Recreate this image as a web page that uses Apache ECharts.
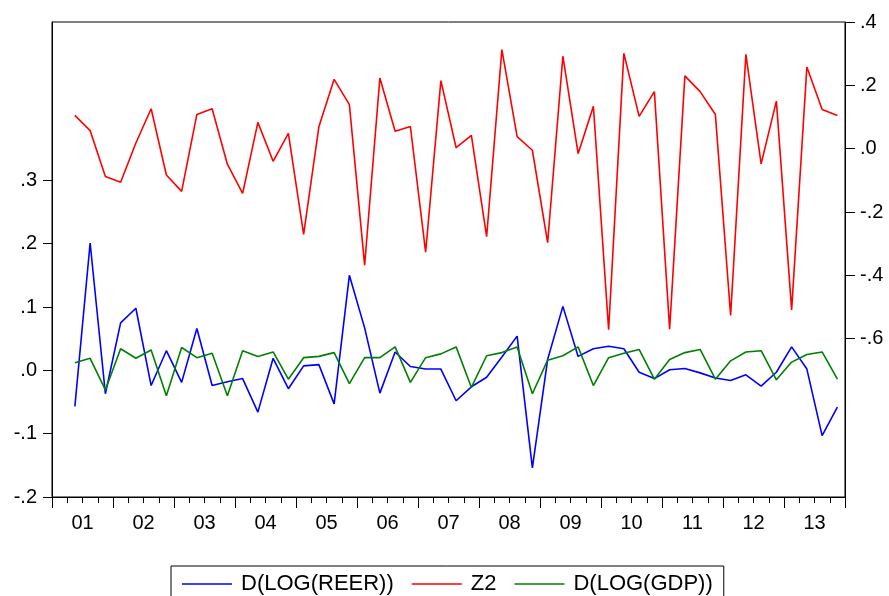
<!DOCTYPE html>
<html>
<head>
<meta charset="utf-8">
<script src="https://cdn.jsdelivr.net/npm/echarts@6/dist/echarts.min.js"></script>
<style>html,body{margin:0;padding:0;background:#fff;}#c{width:889px;height:596px;}</style>
</head>
<body>
<div id="c"></div>
<script>
// Year tick labels (centred in each year band)
var years = ['01','02','03','04','05','06','07','08','09','10','11','12','13'];
// Quarterly categories 2001Q1 .. 2013Q4
var quarters = [];
for (var y = 2001; y <= 2013; y++) { for (var q = 1; q <= 4; q++) { quarters.push(y + 'Q' + q); } }

// D(LOG(REER)) - left axis (first quarter lost to differencing)
var reer = [null,
  -0.057, 0.201, -0.037, 0.075, 0.098, -0.024, 0.031, -0.019, 0.066, -0.024,
  -0.018, -0.013, -0.066, 0.019, -0.029, 0.007, 0.009, -0.053, 0.150, 0.067,
  -0.036, 0.029, 0.006, 0.002, 0.002, -0.048, -0.026, -0.011, 0.021, 0.054,
  -0.154, 0.017, 0.101, 0.022, 0.034, 0.038, 0.034, -0.003, -0.013, 0.001,
  0.003, -0.004, -0.012, -0.016, -0.007, -0.025, -0.003, 0.037, 0.002, -0.103,
  -0.058];
// Z2 - right axis
var z2 = [null,
  0.105, 0.057, -0.088, -0.106, 0.018, 0.126, -0.083, -0.135, 0.108, 0.126,
  -0.049, -0.141, 0.083, -0.040, 0.048, -0.271, 0.069, 0.219, 0.139, -0.368,
  0.223, 0.055, 0.070, -0.327, 0.215, 0.003, 0.042, -0.278, 0.313, 0.038,
  -0.005, -0.297, 0.292, -0.016, 0.134, -0.572, 0.301, 0.102, 0.180, -0.570,
  0.230, 0.180, 0.108, -0.527, 0.298, -0.048, 0.150, -0.509, 0.258, 0.124,
  0.105];
// D(LOG(GDP)) - left axis
var gdp = [null,
  0.012, 0.019, -0.031, 0.034, 0.019, 0.032, -0.040, 0.036, 0.020, 0.027,
  -0.040, 0.031, 0.022, 0.029, -0.014, 0.020, 0.022, 0.028, -0.021, 0.020,
  0.020, 0.037, -0.019, 0.020, 0.026, 0.037, -0.027, 0.023, 0.028, 0.037,
  -0.037, 0.016, 0.023, 0.037, -0.024, 0.020, 0.027, 0.033, -0.014, 0.017,
  0.028, 0.033, -0.014, 0.015, 0.029, 0.031, -0.015, 0.013, 0.025, 0.029,
  -0.014];

var leftTicks = [-0.2, -0.1, 0, 0.1, 0.2, 0.3];
var rightTicks = [-0.6, -0.4, -0.2, 0, 0.2, 0.4];

function fmt(v) {
  var s = (Math.round(v * 10) / 10).toFixed(1);
  return s.replace('0.', '.');
}

var FONT = '"Liberation Sans", Arial, sans-serif';
var chart = echarts.init(document.getElementById('c'), null, {renderer: 'canvas'});
chart.setOption({
  animation: false,
  backgroundColor: '#fff',
  grid: {left: 52, right: 44, top: 22, bottom: 99, show: true, borderColor: '#000', borderWidth: 1},
  legend: {
    left: 171, top: 566,
    data: [
      {name: 'D(LOG(REER))', icon: 'rect'},
      {name: 'Z2', icon: 'rect'},
      {name: 'D(LOG(GDP))', icon: 'rect'}
    ],
    itemWidth: 50, itemHeight: 1.6, itemGap: 18,
    borderColor: '#000', borderWidth: 1, borderRadius: 0,
    padding: [7, 11, 7, 11],
    textStyle: {fontFamily: FONT, fontSize: 22, color: '#000', lineHeight: 22, padding: [0, 0, 0, 4]}
  },
  xAxis: [
    {
      type: 'category', data: quarters, boundaryGap: true, position: 'bottom',
      axisLine: {onZero: false, lineStyle: {color: '#000', width: 1}},
      axisTick: {show: true, interval: 0, length: 6, lineStyle: {color: '#000'}},
      axisLabel: {show: false},
      splitLine: {show: false}
    },
    {
      type: 'category', data: years, boundaryGap: true, position: 'bottom',
      axisLine: {show: false, onZero: false},
      axisTick: {show: true, interval: 0, length: 11, lineStyle: {color: '#000'}},
      axisLabel: {show: true, interval: 0, fontFamily: FONT, fontSize: 20, color: '#000', margin: 16},
      splitLine: {show: false}
    }
  ],
  yAxis: [
    {
      type: 'value', position: 'left', min: -0.2, max: 0.55,
      axisLine: {show: true, lineStyle: {color: '#000'}},
      axisTick: {show: true, length: 9, customValues: leftTicks, lineStyle: {color: '#000'}},
      axisLabel: {customValues: leftTicks, formatter: fmt, fontFamily: FONT, fontSize: 20, color: '#000', margin: 15},
      splitLine: {show: false}
    },
    {
      type: 'value', position: 'right', min: -1.1, max: 0.4,
      axisLine: {show: true, lineStyle: {color: '#000'}},
      axisTick: {show: true, length: 10, customValues: rightTicks, lineStyle: {color: '#000'}},
      axisLabel: {customValues: rightTicks, formatter: fmt, fontFamily: FONT, fontSize: 20, color: '#000', margin: 15},
      splitLine: {show: false}
    }
  ],
  series: [
    {name: 'D(LOG(REER))', type: 'line', data: reer, xAxisIndex: 0, yAxisIndex: 0, symbol: 'none',
     lineStyle: {color: '#0000ff', width: 1.6}, itemStyle: {color: '#0000ff'}},
    {name: 'Z2', type: 'line', data: z2, xAxisIndex: 0, yAxisIndex: 1, symbol: 'none',
     lineStyle: {color: '#ff0000', width: 1.6}, itemStyle: {color: '#ff0000'}},
    {name: 'D(LOG(GDP))', type: 'line', data: gdp, xAxisIndex: 0, yAxisIndex: 0, symbol: 'none',
     lineStyle: {color: '#008000', width: 1.6}, itemStyle: {color: '#008000'}}
  ]
});
</script>
</body>
</html>
